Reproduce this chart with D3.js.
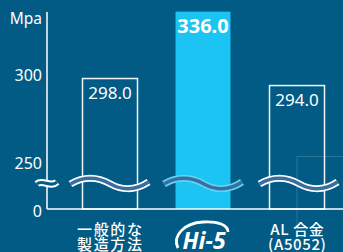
<!DOCTYPE html>
<html>
<head>
<meta charset="utf-8">
<script src="https://cdn.jsdelivr.net/npm/d3@7"></script>
<style>
  html, body { margin: 0; padding: 0; background: #015b85; }
  svg { display: block; }
</style>
</head>
<body>
<svg id="chart" width="343" height="252"></svg>
<script>
// data
var categories = ["一般的な\n製造方法", "Hi-5", "AL 合金\n(A5052)"];
var values = [298.0, 336.0, 294.0];
var tickValues = [300, 250, 0];
var unitLabel = "Mpa";

var bg = "#015b85";
var cyan = "#1bc4f2";
var waveBlue = "#3a6e9e";
var font = "'Noto Sans', 'Noto Sans CJK JP', sans-serif";

var svg = d3.select("#chart");
var width = 343, height = 252;
var axisX = 47;
var barW = 55;

svg.append("rect").attr("width", width).attr("height", height).attr("fill", bg);

// broken axis: 0 sits at baseline, 250..336 is the real range
var y = d3.scaleLinear().domain([0, 250, 300]).range([209, 163, 75]);
var x = d3.scalePoint().domain(categories).range([109.5, 296.5]);

// faint decoration bottom right
svg.append("path")
  .attr("d", "M297,252V156.5H343")
  .attr("fill", "none")
  .attr("stroke", "rgba(255,255,255,0.16)")
  .attr("stroke-width", 1);

// bars
var bars = svg.append("g");
bars.selectAll("rect")
  .data(values)
  .enter()
  .append("rect")
  .attr("x", (d, i) => x(categories[i]) - barW / 2 + (i == 1 ? 0 : 0.5))
  .attr("y", d => y(d))
  .attr("width", barW)
  .attr("height", d => y(0) - y(d))
  .attr("fill", (d, i) => i == 1 ? cyan : "none")
  .attr("stroke", (d, i) => i == 1 ? "none" : "#f2f6f8")
  .attr("stroke-width", 1.5);

// value labels
bars.selectAll("text")
  .data(values)
  .enter()
  .append("text")
  .attr("x", (d, i) => x(categories[i]) + (i == 1 ? 0 : 0.5))
  .attr("y", (d, i) => y(d) + (i == 1 ? 21 : 20))
  .attr("text-anchor", "middle")
  .attr("fill", "white")
  .attr("font-family", font)
  .attr("font-weight", (d, i) => i == 1 ? 700 : 400)
  .attr("font-size", (d, i) => i == 1 ? "20px" : "17px")
  .text(d => d.toFixed(1));

// axes lines
svg.append("line")
  .attr("x1", axisX).attr("x2", axisX)
  .attr("y1", 12).attr("y2", y(0))
  .attr("stroke", "white").attr("stroke-width", 1.5);
svg.append("line")
  .attr("x1", axisX).attr("x2", width)
  .attr("y1", y(0)).attr("y2", y(0))
  .attr("stroke", "white").attr("stroke-width", 1.5);

// tick labels
svg.append("g").selectAll("text")
  .data(tickValues)
  .enter()
  .append("text")
  .attr("x", 42)
  .attr("y", d => y(d) + (d == 0 ? 2.5 : 0))
  .attr("dy", "0.36em")
  .attr("text-anchor", "end")
  .attr("fill", "white")
  .attr("font-family", font)
  .attr("font-size", "16px")
  .text(d => d);

svg.append("text")
  .attr("x", 42).attr("y", 24)
  .attr("text-anchor", "end")
  .attr("fill", "white")
  .attr("font-family", font)
  .attr("font-size", "15.5px")
  .text(unitLabel);

// break marks
var waveY = 183;
var bigWave = "M-39,1 C-22,-9 -8,-4 1,1 S24,9 39,-1";
var smallWave = "M-10,1 C-5,-4 4,5 10,-1";

svg.append("g")
  .attr("transform", `translate(${axisX},${waveY})`)
  .call(g => g.append("path").attr("d", smallWave).attr("fill", "none")
    .attr("stroke", "white").attr("stroke-width", 7))
  .call(g => g.append("path").attr("d", smallWave).attr("fill", "none")
    .attr("stroke", bg).attr("stroke-width", 3));

var waves = svg.append("g").selectAll("g")
  .data(categories)
  .enter()
  .append("g")
  .attr("transform", (d, i) => `translate(${x(d) + (i == 2 ? 2 : 0)},${waveY})`);
waves.append("path")
  .attr("d", bigWave).attr("fill", "none")
  .attr("stroke", (d, i) => i == 1 ? "#5fd3f5" : "white")
  .attr("stroke-width", 7);
waves.append("path")
  .attr("d", bigWave).attr("fill", "none")
  .attr("stroke", waveBlue)
  .attr("stroke-width", 3.6);

// category labels
var labels = svg.append("g");
categories.forEach(function(c, i) {
  if (c == "Hi-5") return;
  let lines = c.split("\n");
  labels.append("text")
    .attr("y", 235)
    .attr("text-anchor", "middle")
    .attr("fill", "white")
    .attr("font-family", "'Noto Sans CJK JP', sans-serif")
    .attr("font-weight", 500)
    .attr("font-size", "15px")
    .attr("letter-spacing", i == 0 ? "1.6px" : "0.6px")
    .selectAll("tspan")
    .data(lines)
    .enter()
    .append("tspan")
    .attr("x", x(c) + 0.8)
    .attr("dy", (d, j) => j == 0 ? 0 : 14.5)
    .text(d => d);
});

// Hi-5 logo
var logo = svg.append("g").attr("transform", `translate(${x("Hi-5")},0)`);
logo.append("path")
  .attr("d", "M-25,248 C-31,236 -19,223 0,222 C15,221 25,225 25,232")
  .attr("fill", "none")
  .attr("stroke", "white")
  .attr("stroke-width", 2.8);
logo.append("text")
  .attr("x", 1).attr("y", 248.5)
  .attr("text-anchor", "middle")
  .attr("font-family", font)
  .attr("font-style", "italic")
  .attr("font-weight", 700)
  .attr("font-size", "23px")
  .attr("fill", "white")
  .attr("stroke", bg)
  .attr("stroke-width", 1.4)
  .attr("paint-order", "stroke")
  .text("Hi-5");
</script>
</body>
</html>
